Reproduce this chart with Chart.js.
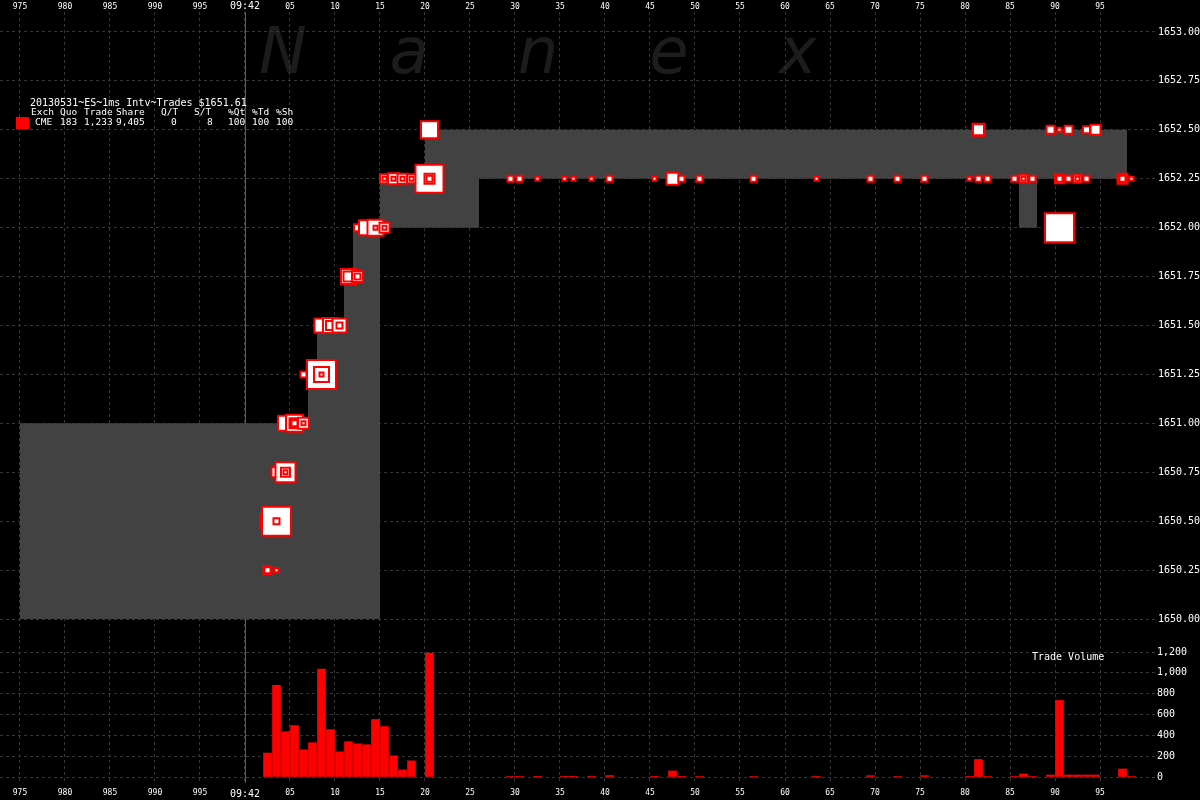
<!DOCTYPE html>
<html>
<head>
<meta charset="utf-8">
<script src="https://cdn.jsdelivr.net/npm/chart.js@4.4.0/dist/chart.umd.min.js"></script>
<style>
  html, body { margin: 0; padding: 0; background: #000; }
  #wrap { position: relative; width: 1200px; height: 800px; background: #000; overflow: hidden; }
  #price { position: absolute; left: 0; top: 0; }
  #volume { position: absolute; left: 0; top: 640px; }
</style>
</head>
<body>
<div id="wrap">
  <canvas id="price" width="1200" height="640"></canvas>
  <canvas id="volume" width="1200" height="160"></canvas>
</div>
<script>
// x in milliseconds relative to 09:42:00.000 (975 = 09:41:59.975)
var xTicks = [-25, -20, -15, -10, -5, 0, 5, 10, 15, 20, 25, 30, 35, 40, 45, 50, 55, 60, 65, 70, 75, 80, 85, 90, 95];
var priceTicks = [1650.00, 1650.25, 1650.50, 1650.75, 1651.00, 1651.25, 1651.50, 1651.75, 1652.00, 1652.25, 1652.50, 1652.75, 1653.00];
var volumeTicks = [0, 200, 400, 600, 800, 1000, 1200];

// best bid / ask, each value holds until the next change
var quoteMs = [-25, 7, 8, 11, 12, 15, 20, 26, 86, 88, 98];
var bidPx = [1650.00, 1650.00, 1650.00, 1650.00, 1650.00, 1652.00, 1652.00, 1652.25, 1652.00, 1652.25, 1652.25];
var askPx = [1651.00, 1651.25, 1651.50, 1651.75, 1652.00, 1652.25, 1652.50, 1652.50, 1652.50, 1652.50, 1652.50];

// trades per ms
var tradeMs = [2, 2, 2, 3, 3, 3, 3, 4, 4, 4, 4, 5, 5, 5, 5, 6, 6, 6,
  8, 8, 8, 8, 9, 9, 10, 10, 11, 11, 12, 12, 12, 13, 14, 14, 15, 15, 15, 15,
  16, 16, 17, 17, 18, 18, 20, 20, 20, 20,
  29, 30, 32, 35, 36, 38, 40, 45, 47, 48, 50, 56, 63, 69, 72, 75, 80,
  81, 81, 81, 82, 85, 86, 86, 87, 89, 90, 90, 90, 90, 91, 91, 92, 92, 93, 93, 94, 97, 97, 97, 98];
var tradePx = [1650.25, 1650.25, 1650.50, 1650.25, 1650.50, 1650.50, 1650.75, 1650.75, 1650.75, 1650.75, 1651.00,
  1651.00, 1651.00, 1651.00, 1651.00, 1651.00, 1651.00, 1651.25,
  1651.25, 1651.25, 1651.25, 1651.50, 1651.50, 1651.50, 1651.50, 1651.50, 1651.75, 1651.75, 1651.75, 1651.75, 1652.00,
  1652.00, 1652.00, 1652.00, 1652.00, 1652.00, 1652.25, 1652.25,
  1652.25, 1652.25, 1652.25, 1652.25, 1652.25, 1652.25, 1652.25, 1652.25, 1652.25, 1652.50,
  1652.25, 1652.25, 1652.25, 1652.25, 1652.25, 1652.25, 1652.25, 1652.25, 1652.25, 1652.25, 1652.25, 1652.25, 1652.25,
  1652.25, 1652.25, 1652.25, 1652.25,
  1652.25, 1652.50, 1652.50, 1652.25, 1652.25, 1652.25, 1652.25, 1652.25, 1652.50, 1652.00, 1652.25, 1652.25, 1652.50,
  1652.25, 1652.50, 1652.25, 1652.25, 1652.25, 1652.50, 1652.50, 1652.25, 1652.25, 1652.25, 1652.25];
var tradeShares = [25, 9, 121, 1, 676, 9, 49, 289, 36, 1, 144, 196, 49, 25, 9, 64, 1, 9,
  676, 144, 1, 121, 144, 36, 121, 9, 144, 49, 64, 9, 16, 144, 169, 1, 49, 1, 36, 1,
  64, 1, 49, 1, 36, 1, 625, 49, 9, 196,
  9, 9, 1, 1, 1, 1, 9, 1, 81, 9, 9, 9, 1, 9, 9, 9, 1,
  9, 81, 64, 9, 9, 25, 1, 9, 25, 676, 36, 9, 1, 9, 25, 25, 1, 9, 16, 49, 49, 25, 9, 1];

// trade volume per ms
var volMs = [2, 3, 4, 5, 6, 7, 8, 9, 10, 11, 12, 13, 14, 15, 16, 17, 18, 20,
  29, 30, 32, 35, 36, 38, 40, 45, 47, 48, 50, 56, 63, 69, 72, 75, 80, 81, 82,
  85, 86, 87, 89, 90, 91, 92, 93, 94, 97, 98];
var volShares = [230, 880, 435, 494, 261, 329, 1036, 455, 242, 339, 319, 310, 552, 484, 203, 68, 155, 1190,
  4, 4, 3, 3, 3, 3, 14, 3, 58, 3, 4, 4, 3, 13, 4, 13, 3, 168, 4,
  4, 29, 4, 19, 735, 19, 19, 19, 19, 77, 4];

var MONO = 'DejaVu Sans Mono';
var GRID = '#363636';
var X_MIN = -27.222, X_MAX = 101.111;

function fmtMs(v) {
    if (v < 0) return String(1000 + v);
    if (v === 0) return '09:42';
    return String(v).padStart(2, '0');
}
function tickFont(ctx) {
    var big = ctx.tick && ctx.tick.value === 0;
    return { family: MONO, size: big ? 10 : 8 };
}
function squareRadius(shares) {
    var side = 5 + Math.sqrt(shares);
    return (side - 2) / Math.SQRT2;
}

// draw order: by time, larger trades first so smaller ones nest on top
var order = tradeMs.map(function (m, i) { return i; });
order.sort(function (a, b) { return tradeMs[a] - tradeMs[b] || tradeShares[b] - tradeShares[a]; });
var tradePoints = order.map(function (i) { return { x: tradeMs[i] + 0.5, y: tradePx[i], s: tradeShares[i] }; });

var bidPoints = quoteMs.map(function (m, i) { return { x: m, y: bidPx[i] }; });
var askPoints = quoteMs.map(function (m, i) { return { x: m, y: askPx[i] }; });

var markLine = {
    id: 'markLine',
    beforeDatasetsDraw: function (chart) {
        var ctx = chart.ctx, x = Math.round(chart.scales.x.getPixelForValue(0)) + 0.5;
        ctx.save();
        ctx.strokeStyle = '#5e5e5e';
        ctx.lineWidth = 1;
        ctx.beginPath();
        ctx.moveTo(x, chart.chartArea.top);
        ctx.lineTo(x, chart.chartArea.bottom);
        ctx.stroke();
        ctx.restore();
    }
};

var priceDecor = {
    id: 'priceDecor',
    beforeDraw: function (chart) {
        var ctx = chart.ctx;
        ctx.save();
        ctx.fillStyle = '#1c1c1c';
        ctx.font = 'oblique 64px "DejaVu Sans"';
        ctx.textAlign = 'center';
        ctx.textBaseline = 'alphabetic';
        var letters = ['N', 'a', 'n', 'e', 'x'];
        var cx = [283, 409, 538, 669, 798];
        letters.forEach(function (l, i) { ctx.fillText(l, cx[i], 73); });
        ctx.restore();
    },
    afterDraw: function (chart) {
        var ctx = chart.ctx;
        ctx.save();
        ctx.fillStyle = '#fff';
        ctx.textBaseline = 'middle';
        ctx.textAlign = 'left';
        ctx.font = '10px "' + MONO + '"';
        ctx.fillText('20130531~ES~1ms Intv~Trades $1651.61', 30, 103);
        ctx.font = '9.5px "' + MONO + '"';
        var head = [['Exch', 31], ['Quo', 60], ['Trade', 84], ['Share', 116], ['Q/T', 161], ['S/T', 194], ['%Qt', 228], ['%Td', 252], ['%Sh', 276]];
        head.forEach(function (t) { ctx.fillText(t[0], t[1], 113); });
        var row = [['CME', 35], ['183', 60], ['1,233', 84], ['9,405', 116], ['0', 171], ['8', 207], ['100', 228], ['100', 252], ['100', 276]];
        row.forEach(function (t) { ctx.fillText(t[0], t[1], 123); });
        ctx.fillStyle = '#f00';
        ctx.fillRect(16, 117, 13, 12);
        ctx.restore();
    }
};

var volumeDecor = {
    id: 'volumeDecor',
    afterDraw: function (chart) {
        var ctx = chart.ctx;
        ctx.save();
        ctx.fillStyle = '#fff';
        ctx.font = '10px "' + MONO + '"';
        ctx.textBaseline = 'middle';
        ctx.fillText('Trade Volume', 1032, 17);
        ctx.restore();
    }
};

new Chart(document.getElementById('price'), {
    type: 'line',
    data: {
        datasets: [
            {
                label: 'Trades',
                data: tradePoints,
                showLine: false,
                order: 0,
                clip: false,
                pointStyle: 'rect',
                pointRadius: function (ctx) { return ctx.raw ? squareRadius(ctx.raw.s) : 3; },
                pointBackgroundColor: '#fff',
                pointBorderColor: '#f00',
                pointBorderWidth: 2
            },
            {
                label: 'Bid',
                data: bidPoints,
                stepped: true,
                borderWidth: 0,
                borderColor: 'rgba(0,0,0,0)',
                pointRadius: 0,
                fill: false,
                order: 2
            },
            {
                label: 'Ask',
                data: askPoints,
                stepped: true,
                borderWidth: 0,
                borderColor: 'rgba(0,0,0,0)',
                backgroundColor: '#424242',
                pointRadius: 0,
                fill: 1,
                order: 1
            }
        ]
    },
    options: {
        responsive: false,
        animation: false,
        events: [],
        layout: { padding: 0, autoPadding: false },
        plugins: { legend: { display: false }, tooltip: { enabled: false } },
        scales: {
            x: {
                type: 'linear',
                position: 'top',
                min: X_MIN,
                max: X_MAX,
                afterBuildTicks: function (s) { s.ticks = xTicks.map(function (v) { return { value: v }; }); },
                afterFit: function (s) { s.height = 12; s.paddingLeft = 0; s.paddingRight = 0; },
                grid: { color: GRID, drawTicks: false },
                border: { display: false, dash: [3, 3] },
                ticks: { color: '#fff', padding: 0, maxRotation: 0, autoSkip: false, font: tickFont, callback: fmtMs }
            },
            y: {
                position: 'right',
                min: 1649.893,
                max: 1653.102,
                afterBuildTicks: function (s) { s.ticks = priceTicks.map(function (v) { return { value: v }; }); },
                afterFit: function (s) { s.width = 45; s.paddingTop = 0; s.paddingBottom = 0; },
                grid: { color: GRID, drawTicks: false },
                border: { display: false, dash: [3, 3] },
                ticks: { color: '#fff', padding: 3, font: { family: MONO, size: 10 }, callback: function (v) { return v.toFixed(2); } }
            }
        }
    },
    plugins: [markLine, priceDecor]
});

new Chart(document.getElementById('volume'), {
    type: 'bar',
    data: {
        datasets: [{
            label: 'Trade Volume',
            data: volMs.map(function (m, i) { return { x: m + 0.5, y: volShares[i] }; }),
            backgroundColor: '#f00',
            borderWidth: 0,
            barThickness: 8
        }]
    },
    options: {
        responsive: false,
        animation: false,
        events: [],
        layout: { padding: 0, autoPadding: false },
        plugins: { legend: { display: false }, tooltip: { enabled: false } },
        scales: {
            x: {
                type: 'linear',
                position: 'bottom',
                offset: false,
                min: X_MIN,
                max: X_MAX,
                afterBuildTicks: function (s) { s.ticks = xTicks.map(function (v) { return { value: v }; }); },
                afterFit: function (s) { s.height = 17; s.paddingLeft = 0; s.paddingRight = 0; },
                grid: { color: GRID, drawTicks: false, offset: false },
                border: { display: false, dash: [3, 3] },
                ticks: { color: '#fff', padding: 5, maxRotation: 0, autoSkip: false, font: tickFont, callback: fmtMs }
            },
            y: {
                position: 'right',
                min: -57.6,
                max: 1315.2,
                afterBuildTicks: function (s) { s.ticks = volumeTicks.map(function (v) { return { value: v }; }); },
                afterFit: function (s) { s.width = 45; s.paddingTop = 0; s.paddingBottom = 0; },
                grid: { color: GRID, drawTicks: false },
                border: { display: false, dash: [3, 3] },
                ticks: { color: '#fff', padding: 2, font: { family: MONO, size: 10 }, callback: function (v) { return v.toLocaleString('en-US'); } }
            }
        }
    },
    plugins: [markLine, volumeDecor]
});
</script>
</body>
</html>
